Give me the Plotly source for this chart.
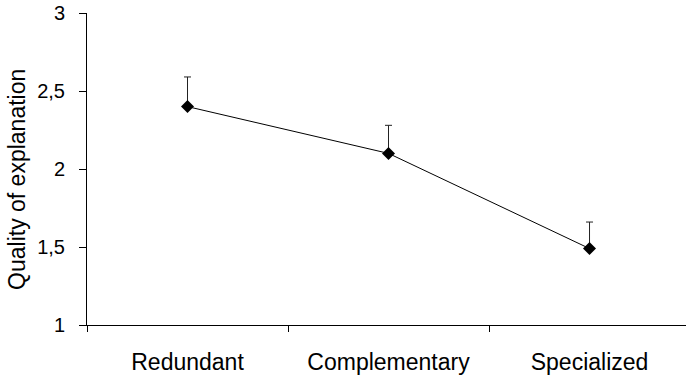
import plotly.graph_objects as go

categories = ["Redundant", "Complementary", "Specialized"]
quality = [2.40, 2.10, 1.49]
error_up = [0.19, 0.18, 0.17]
y_tickvals = [1, 1.5, 2, 2.5, 3]
y_ticktext = ["1", "1,5", "2", "2,5", "3"]

fig = go.Figure()
fig.add_trace(go.Scatter(
    x=categories, y=quality, mode="lines+markers",
    line=dict(color="black", width=1),
    marker=dict(symbol="diamond", size=10, color="black"),
    error_y=dict(type="data", symmetric=False, array=error_up,
                 arrayminus=[0] * len(error_up), color="#222222",
                 thickness=1, width=3.5),
    showlegend=False,
))

fig.update_layout(
    width=686, height=379,
    margin=dict(l=87, r=0, t=13, b=54),
    paper_bgcolor="white", plot_bgcolor="white",
    font=dict(family="Liberation Sans, Arial, sans-serif", color="black"),
    xaxis=dict(
        type="category", range=[-0.5, 2.48],
        showline=True, linecolor="black", linewidth=1,
        ticks="outside", tickson="boundaries", ticklen=6, tickcolor="black",
        tickfont=dict(size=23), ticklabelstandoff=16,
        showgrid=False, zeroline=False,
    ),
    yaxis=dict(
        range=[1, 3], tickvals=y_tickvals, ticktext=y_ticktext,
        showline=True, linecolor="black", linewidth=1,
        ticks="outside", ticklen=7, tickcolor="black",
        tickfont=dict(size=20), ticklabelstandoff=10,
        showgrid=False, zeroline=False,
    ),
    annotations=[dict(
        text="Quality of explanation", textangle=-90,
        xref="paper", yref="paper", x=-70 / 599, y=0.465,
        xanchor="center", yanchor="middle", showarrow=False,
        font=dict(size=23),
    )],
)

fig.write_html("out.html", config={"displayModeBar": False},
               post_script="document.body.style.margin='0';")
